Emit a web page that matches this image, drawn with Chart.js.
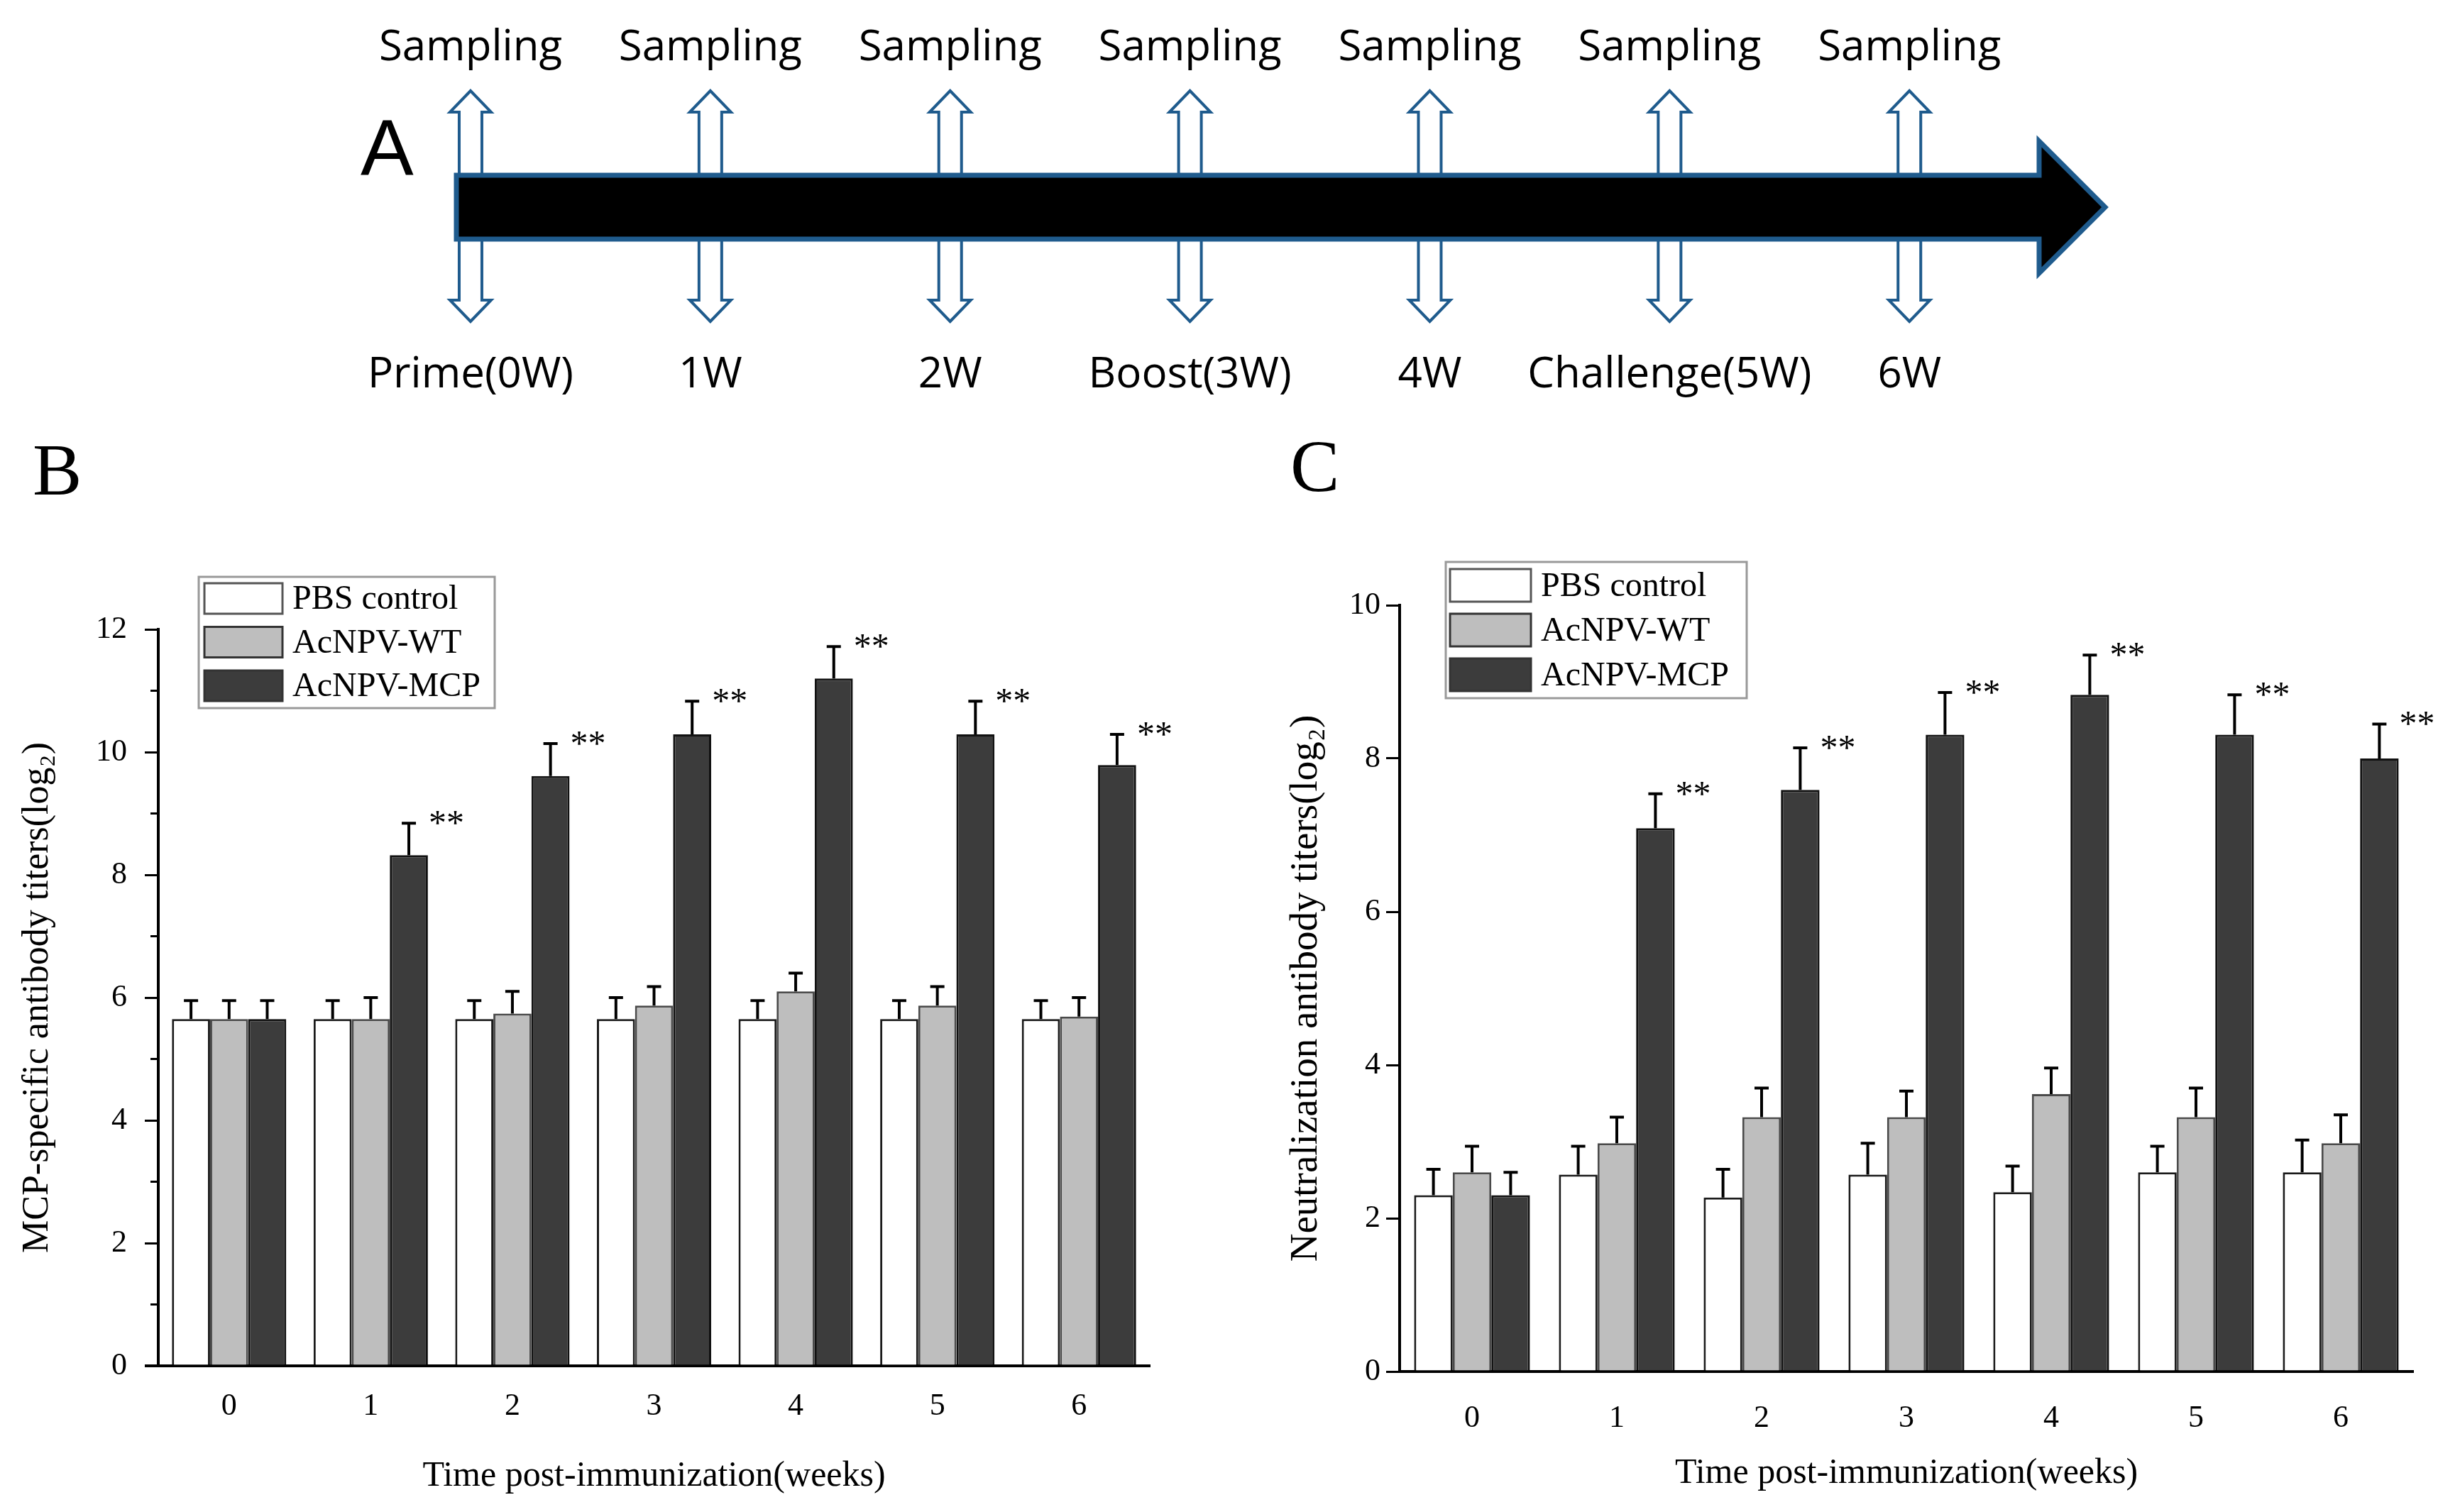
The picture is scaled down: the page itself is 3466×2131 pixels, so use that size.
<!DOCTYPE html>
<html>
<head>
<meta charset="utf-8">
<script src="https://cdn.jsdelivr.net/npm/chart.js@4.4.0/dist/chart.umd.min.js"></script>
<style>
    body { margin: 0; background: #fff; width: 3466px; height: 2131px; position: relative; overflow: hidden; }
    canvas { position: absolute; }
    .panel { position: absolute; line-height: 1; color: #000; }
    .serif { font-family: "Liberation Serif", "Times New Roman", serif; font-size: 104px; }
    .sans { font-family: "Liberation Sans", Arial, sans-serif; font-size: 112px; }
</style>
</head>
<body>
<div class="panel sans" style="left:508px; top:152px;">A</div>
<div class="panel serif" style="left:46px; top:610px;">B</div>
<div class="panel serif" style="left:1818px; top:605px;">C</div>
<canvas id="timeline" width="3466" height="600" style="left:0; top:0;"></canvas>
<canvas id="mcpChart" width="1740" height="1351" style="left:0; top:780px;"></canvas>
<canvas id="neutChart" width="1716" height="1351" style="left:1750px; top:780px;"></canvas>
<script>
    //Timeline (panel A)
    var sampleWeeks = [0, 1, 2, 3, 4, 5, 6];
    var sampleTopLabels = ['Sampling', 'Sampling', 'Sampling', 'Sampling', 'Sampling', 'Sampling', 'Sampling'];
    var sampleEvents = ['Prime(0W)', '1W', '2W', 'Boost(3W)', '4W', 'Challenge(5W)', '6W'];

    //Bar charts (panels B and C)
    var weekLabels = ['0', '1', '2', '3', '4', '5', '6'];
    var groupNames = ['PBS control', 'AcNPV-WT', 'AcNPV-MCP'];

    //MCP-specific antibody titers (log2)
    var mcpPbs = [5.65, 5.65, 5.65, 5.65, 5.65, 5.65, 5.65];
    var mcpPbsErr = [0.30, 0.30, 0.30, 0.35, 0.30, 0.30, 0.30];
    var mcpWt = [5.65, 5.65, 5.74, 5.87, 6.10, 5.87, 5.69];
    var mcpWtErr = [0.30, 0.35, 0.36, 0.31, 0.30, 0.31, 0.31];
    var mcpMcp = [5.65, 8.32, 9.61, 10.29, 11.20, 10.29, 9.79];
    var mcpMcpErr = [0.30, 0.52, 0.53, 0.54, 0.52, 0.54, 0.50];
    var mcpSignif = ['', '**', '**', '**', '**', '**', '**'];

    //Neutralization antibody titers (log2)
    var neutPbs = [2.30, 2.57, 2.27, 2.57, 2.34, 2.60, 2.60];
    var neutPbsErr = [0.34, 0.37, 0.37, 0.41, 0.34, 0.34, 0.42];
    var neutWt = [2.60, 2.98, 3.32, 3.32, 3.62, 3.32, 2.98];
    var neutWtErr = [0.34, 0.34, 0.38, 0.34, 0.34, 0.38, 0.37];
    var neutMcp = [2.30, 7.09, 7.59, 8.31, 8.83, 8.31, 8.00];
    var neutMcpErr = [0.30, 0.45, 0.55, 0.55, 0.52, 0.52, 0.45];
    var neutSignif = ['', '**', '**', '**', '**', '**', '**'];

    var serif = '"Liberation Serif", "Times New Roman", serif';
    var groupFill = ['#ffffff', '#bebebe', '#3c3c3c'];
    var groupEdge = ['#1a1a1a', '#4a4a4a', '#111111'];
    var arrowBlue = '#1f5b8d';

    //Outline arrow from yStart to the tip at yTip
    function hollowArrow (ctx, x, yStart, yTip) {
        var dir = yTip > yStart ? 1 : -1;
        var base = yTip - dir * 30;
        ctx.beginPath();
        ctx.moveTo(x - 16, yStart);
        ctx.lineTo(x - 16, base);
        ctx.lineTo(x - 29, base);
        ctx.lineTo(x, yTip);
        ctx.lineTo(x + 29, base);
        ctx.lineTo(x + 16, base);
        ctx.lineTo(x + 16, yStart);
        ctx.fillStyle = '#fff';
        ctx.fill();
        ctx.strokeStyle = arrowBlue;
        ctx.lineWidth = 4;
        ctx.stroke();
    }

    var timelinePlugin = {
        id: 'timelineArrows',
        afterDatasetsDraw: function (chart) {
            var ctx = chart.ctx;
            var area = chart.chartArea;
            var xs = chart.scales.x;
            var cy = chart.scales.y.getPixelForValue(0);
            ctx.save();
            ctx.lineJoin = 'miter';

            //Sampling arrows first, the big arrow covers their feet
            sampleWeeks.forEach(function (w) {
                var x = xs.getPixelForValue(w);
                hollowArrow(ctx, x, cy, cy - 164);
                hollowArrow(ctx, x, cy, cy + 161);
            });

            //Main time arrow
            var left = area.left + 2;
            var headBase = area.right - 97;
            var tip = area.right - 4;
            ctx.beginPath();
            ctx.moveTo(left, cy - 45);
            ctx.lineTo(headBase, cy - 45);
            ctx.lineTo(headBase, cy - 93);
            ctx.lineTo(tip, cy);
            ctx.lineTo(headBase, cy + 93);
            ctx.lineTo(headBase, cy + 45);
            ctx.lineTo(left, cy + 45);
            ctx.closePath();
            ctx.fillStyle = '#000';
            ctx.fill();
            ctx.strokeStyle = arrowBlue;
            ctx.lineWidth = 7;
            ctx.stroke();

            //Labels
            ctx.fillStyle = '#000';
            ctx.font = '60px "Open Sans", "Noto Sans", sans-serif';
            ctx.textAlign = 'center';
            ctx.textBaseline = 'alphabetic';
            sampleWeeks.forEach(function (w, i) {
                var x = xs.getPixelForValue(w);
                ctx.fillText(sampleTopLabels[i], x, cy - 207);
                ctx.fillText(sampleEvents[i], x, cy + 254);
            });
            ctx.restore();
        }
    };

    new Chart(document.getElementById('timeline'), {
        type: 'scatter',
        data: {
            datasets: [{
                data: sampleWeeks.map(function (w) { return { x: w, y: 0 }; }),
                pointRadius: 0
            }]
        },
        plugins: [timelinePlugin],
        options: {
            responsive: false,
            animation: false,
            devicePixelRatio: 1,
            events: [],
            layout: { padding: { left: 641, right: 496, top: 0, bottom: 16 } },
            plugins: { legend: { display: false }, tooltip: { enabled: false } },
            scales: {
                x: { type: 'linear', min: -0.065, max: 6.828, display: false },
                y: { min: -1, max: 1, display: false }
            }
        }
    });

    //Upward error bars and significance marks
    var errorBarPlugin = {
        id: 'errorBars',
        afterDatasetsDraw: function (chart) {
            var ctx = chart.ctx;
            var ys = chart.scales.y;
            ctx.save();
            ctx.strokeStyle = '#000';
            ctx.lineWidth = 4;
            ctx.fillStyle = '#000';
            ctx.font = '50px ' + serif;
            ctx.textAlign = 'left';
            ctx.textBaseline = 'alphabetic';
            chart.data.datasets.forEach(function (ds, i) {
                chart.getDatasetMeta(i).data.forEach(function (bar, j) {
                    var top = ys.getPixelForValue(ds.data[j] + ds.errors[j]);
                    ctx.beginPath();
                    ctx.moveTo(bar.x, bar.y);
                    ctx.lineTo(bar.x, top);
                    ctx.moveTo(bar.x - 10, top);
                    ctx.lineTo(bar.x + 10, top);
                    ctx.stroke();
                    if (ds.signif && ds.signif[j]) {
                        ctx.fillText(ds.signif[j], bar.x + 28, top + 16);
                    }
                });
            });
            ctx.restore();
        }
    };

    //Short ticks between the labelled ones, and the x axis stub left of the y axis
    var minorTickPlugin = {
        id: 'minorTicks',
        afterDraw: function (chart) {
            var ctx = chart.ctx;
            var ys = chart.scales.y;
            var x0 = chart.chartArea.left;
            ctx.save();
            ctx.strokeStyle = '#000';
            ctx.lineWidth = 3;
            for (var v = ys.min + 1; v < ys.max; v += 2) {
                var y = ys.getPixelForValue(v);
                ctx.beginPath();
                ctx.moveTo(x0 - 11, y);
                ctx.lineTo(x0, y);
                ctx.stroke();
            }
            ctx.lineWidth = 4;
            ctx.beginPath();
            ctx.moveTo(x0 - 19, chart.chartArea.bottom);
            ctx.lineTo(x0, chart.chartArea.bottom);
            ctx.stroke();
            ctx.restore();
        }
    };

    //Boxed legend drawn from the datasets
    var boxLegendPlugin = {
        id: 'boxLegend',
        afterDraw: function (chart, args, o) {
            var ctx = chart.ctx;
            ctx.save();
            ctx.fillStyle = '#fff';
            ctx.fillRect(o.x, o.y, o.w, o.h);
            ctx.strokeStyle = '#999';
            ctx.lineWidth = 3;
            ctx.strokeRect(o.x, o.y, o.w, o.h);
            ctx.font = '48px ' + serif;
            ctx.textBaseline = 'middle';
            ctx.textAlign = 'left';
            chart.data.datasets.forEach(function (ds, i) {
                var top = o.y + o.rowTop + i * o.pitch;
                ctx.fillStyle = ds.backgroundColor;
                ctx.fillRect(o.x + o.sx, top, o.sw, o.sh);
                ctx.strokeStyle = i === 0 ? '#555' : '#333';
                ctx.lineWidth = 3;
                ctx.strokeRect(o.x + o.sx, top, o.sw, o.sh);
                ctx.fillStyle = '#000';
                ctx.fillText(ds.label, o.x + o.tx, top + o.sh / 2 + 2);
            });
            ctx.restore();
        }
    };

    function barChart (canvasId, series, errors, signif, opt) {
        var datasets = series.map(function (vals, i) {
            return {
                label: groupNames[i],
                data: vals,
                errors: errors[i],
                signif: i === 2 ? signif : null,
                backgroundColor: groupFill[i],
                borderColor: groupEdge[i],
                borderWidth: 3,
                barPercentage: 1,
                categoryPercentage: opt.catPct
            };
        });
        var plugins = [errorBarPlugin, boxLegendPlugin];
        if (opt.minor) {
            plugins.push(minorTickPlugin);
        }
        return new Chart(document.getElementById(canvasId), {
            type: 'bar',
            data: { labels: weekLabels, datasets: datasets },
            plugins: plugins,
            options: {
                responsive: false,
                animation: false,
                devicePixelRatio: 1,
                events: [],
                layout: { padding: opt.padding },
                plugins: {
                    legend: { display: false },
                    tooltip: { enabled: false },
                    boxLegend: opt.legend
                },
                scales: {
                    x: {
                        grid: { display: false, drawTicks: false },
                        border: { display: true, color: '#000', width: 4 },
                        ticks: { color: '#000', font: { family: serif, size: 44 }, padding: opt.xTickPad },
                        title: {
                            display: true,
                            text: 'Time post-immunization(weeks)',
                            color: '#000',
                            font: { family: serif, size: 50 },
                            padding: { top: 0, bottom: opt.xTitlePad }
                        },
                        afterFit: function (s) { s.height = opt.xHeight; }
                    },
                    y: {
                        min: 0,
                        max: opt.yMax,
                        ticks: { stepSize: 2, color: '#000', font: { family: serif, size: 44 }, padding: opt.yTickPad },
                        grid: { drawOnChartArea: false, drawTicks: true, tickLength: 19, lineWidth: 3, color: '#000' },
                        border: { display: true, color: '#000', width: 4 },
                        title: {
                            display: true,
                            text: opt.yTitle,
                            color: '#000',
                            font: { family: serif, size: opt.yTitleSize },
                            padding: { top: opt.yTitlePad, bottom: 0 }
                        },
                        afterFit: function (s) { s.width = opt.yWidth; }
                    }
                }
            }
        });
    }

    barChart('mcpChart', [mcpPbs, mcpWt, mcpMcp], [mcpPbsErr, mcpWtErr, mcpMcpErr], mcpSignif, {
        catPct: 0.807,
        padding: { left: 0, top: 107, right: 120, bottom: 0 },
        yWidth: 223,
        xHeight: 206,
        yMax: 12,
        yTitle: 'MCP-specific antibody titers(log\u2082)',
        yTitleSize: 52,
        yTitlePad: 22,
        yTickPad: 25,
        xTickPad: 31,
        xTitlePad: 20,
        minor: true,
        legend: { x: 280, y: 33, w: 417, h: 185, sx: 8, sw: 110, sh: 43, rowTop: 9, pitch: 61.5, tx: 132 }
    });

    barChart('neutChart', [neutPbs, neutWt, neutMcp], [neutPbsErr, neutWtErr, neutMcpErr], neutSignif, {
        catPct: 0.8,
        padding: { left: 0, top: 73, right: 66, bottom: 0 },
        yWidth: 222,
        xHeight: 198,
        yMax: 10,
        yTitle: 'Neutralization antibody titers(log\u2082)',
        yTitleSize: 55,
        yTitlePad: 58,
        yTickPad: 8,
        xTickPad: 40,
        xTitlePad: 24,
        minor: false,
        legend: { x: 287, y: 12, w: 424, h: 192, sx: 6, sw: 114, sh: 46, rowTop: 10, pitch: 63, tx: 134 }
    });
</script>
</body>
</html>
